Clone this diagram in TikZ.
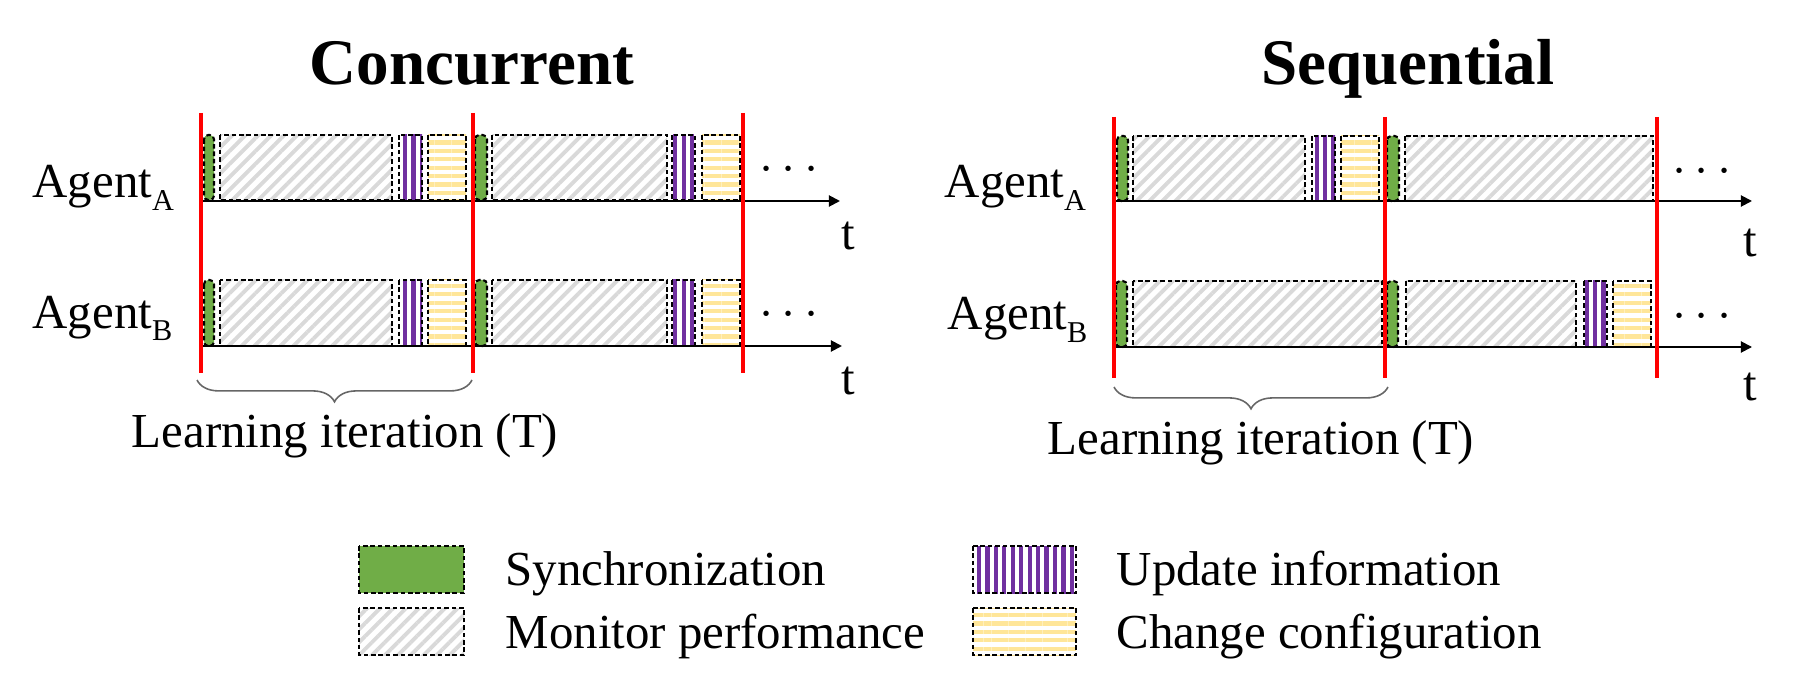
\documentclass[tikz,border=0pt]{standalone}
\usepackage{fontspec}
\setmainfont{Liberation Serif}
\usetikzlibrary{arrows.meta, patterns.meta, decorations.pathreplacing}
\definecolor{syncgreen}{HTML}{70AD47}
\definecolor{updpurple}{HTML}{7030A0}
\definecolor{chgyellow}{HTML}{FFE699}
\definecolor{monigray}{HTML}{D9D9D9}
\newcommand{\agsub}[1]{\raisebox{-3.6pt}{\fontsize{8.6}{9}\selectfont #1}}

\begin{document}
\begin{tikzpicture}[x=0.01cm, y=-0.01cm,
    blk/.style={draw, line width=0.6pt, dash pattern=on 1.3pt off 0.8pt},
    sync/.style={fill=syncgreen, rounded corners=1.2pt, postaction={blk}},
    monitor/.style={pattern={Lines[angle=45, distance=2.6pt, line width=1.1pt]}, pattern color=monigray, postaction={blk}},
    update/.style={pattern={Lines[angle=90, distance=2.4pt, line width=1.2pt]}, pattern color=updpurple, postaction={blk}},
    change/.style={pattern={Lines[angle=0, distance=2.4pt, line width=1.2pt]}, pattern color=chgyellow, postaction={blk}},
    boundary/.style={red, line width=1.4pt},
    timeaxis/.style={-{Triangle[length=3.2pt, width=3.2pt]}, line width=0.55pt},
    iterbrace/.style={decorate, decoration={brace, mirror, amplitude=6.2pt}, black!60, line width=0.45pt},
    lbl/.style={font=\fontsize{13.9}{16}\selectfont, inner sep=0pt},
    legtext/.style={lbl, anchor=base west},
    heading/.style={font=\fontsize{18.5}{22}\selectfont\bfseries, inner sep=0pt, anchor=base}
  ]
    \useasboundingbox (0,0) rectangle (1793,691);

    % Titles
    \node[heading] (conc) at (472,85) {Concurrent};
    \node[heading] (seq) at (1408,85) {Sequential};

    % Concurrent: both agents run the same steps
    \foreach \yt/\yb in {135/200, 280/346} {
      \path[sync] (204,\yt) rectangle (214,\yb);
      \path[monitor] (220,\yt) rectangle (392,\yb);
      \path[update] (399,\yt) rectangle (422,\yb);
      \path[change] (428,\yt) rectangle (466,\yb);
      \path[sync] (475,\yt) rectangle (487,\yb);
      \path[monitor] (492,\yt) rectangle (667,\yb);
      \path[update] (672,\yt) rectangle (695,\yb);
      \path[change] (702,\yt) rectangle (740,\yb);
    }

    % Sequential: agent A first, then agent B
    \path[sync] (1117,136) rectangle (1128,201);
    \path[monitor] (1133,136) rectangle (1305,201);
    \path[update] (1312,136) rectangle (1335,201);
    \path[change] (1341,136) rectangle (1379,201);
    \path[sync] (1387,136) rectangle (1399,201);
    \path[monitor] (1405,136) rectangle (1653,201);

    \path[sync] (1116,281) rectangle (1127,347);
    \path[monitor] (1133,281) rectangle (1382,347);
    \path[sync] (1387,281) rectangle (1398,347);
    \path[monitor] (1406,281) rectangle (1576,347);
    \path[update] (1584,281) rectangle (1607,347);
    \path[change] (1613,281) rectangle (1651,347);

    % Time axes
    \coordinate (cAs) at (201,201);  \coordinate (cAe) at (840,201);
    \coordinate (cBs) at (201,346);  \coordinate (cBe) at (842,346);
    \coordinate (sAs) at (1114,201); \coordinate (sAe) at (1752,201);
    \coordinate (sBs) at (1114,347); \coordinate (sBe) at (1752,347);
    \draw[timeaxis] (cAs) -- (cAe);
    \draw[timeaxis] (cBs) -- (cBe);
    \draw[timeaxis] (sAs) -- (sAe);
    \draw[timeaxis] (sBs) -- (sBe);

    % Iteration boundaries
    \foreach \x in {201,473,743} \draw[boundary] (\x,113) -- (\x,373);
    \foreach \x in {1114,1385,1657} \draw[boundary] (\x,117) -- (\x,378);

    % Agent labels
    \node[lbl, anchor=base west] (cagA) at (32,198) {Agent\agsub{A}};
    \node[lbl, anchor=base west] (cagB) at (32,328) {Agent\agsub{B}};
    \node[lbl, anchor=base west] (sagA) at (944,198) {Agent\agsub{A}};
    \node[lbl, anchor=base west] (sagB) at (947,330) {Agent\agsub{B}};

    % Axis labels and dots
    \node[lbl, anchor=base] (ctA) at (848,250) {t};
    \node[lbl, anchor=base] (ctB) at (848,395) {t};
    \node[lbl, anchor=base] (stA) at (1750,257) {t};
    \node[lbl, anchor=base] (stB) at (1750,400) {t};
    \node[lbl, anchor=base] (cdA) at (789,182) {$\cdots$};
    \node[lbl, anchor=base] (cdB) at (789,327) {$\cdots$};
    \node[lbl, anchor=base] (sdA) at (1702,184) {$\cdots$};
    \node[lbl, anchor=base] (sdB) at (1702,329) {$\cdots$};

    % Learning iteration braces
    \coordinate (cbL) at (197,380); \coordinate (cbR) at (472,380);
    \coordinate (sbL) at (1114,387); \coordinate (sbR) at (1388,387);
    \draw[iterbrace] (cbL) -- (cbR);
    \draw[iterbrace] (sbL) -- (sbR);
    \node[lbl, anchor=base] (citer) at (345,448) {Learning iteration (T)};
    \node[lbl, anchor=base] (siter) at (1261,455) {Learning iteration (T)};

    % Legend
    \path[sync, rounded corners=0pt] (359,546) rectangle (464,593);
    \path[monitor] (359,608) rectangle (464,655);
    \path[update] (973,546) rectangle (1076,593);
    \path[change] (973,608) rectangle (1076,655);
    \node[legtext] (lsync) at (505,585) {Synchronization};
    \node[legtext] (lmon) at (505,648) {Monitor performance};
    \node[legtext] (lupd) at (1116,585) {Update information};
    \node[legtext] (lchg) at (1116,648) {Change configuration};
  \end{tikzpicture}
\end{document}
